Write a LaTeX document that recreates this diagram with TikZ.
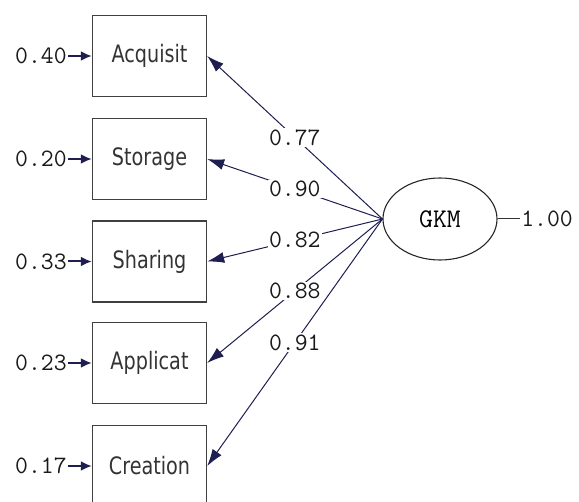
\documentclass[tikz,border=0pt]{standalone}
\usepackage{fontspec}
\newfontfamily\boxfont[FakeStretch=0.8]{DejaVu Sans}
\usetikzlibrary{arrows.meta,shapes.geometric}
\definecolor{pathnavy}{RGB}{30,30,80}

\begin{document}
\begin{tikzpicture}[x=1pt,y=-1pt,
    indicator/.style={draw=black!75,line width=1.4pt,minimum width=114pt,minimum height=81pt,inner sep=0pt,text=black!80,font=\boxfont\fontsize{24}{24}\selectfont},
    latent/.style={ellipse,draw=black!85,line width=1.1pt,minimum width=114pt,minimum height=82pt,inner sep=0pt,font=\ttfamily\fontsize{27}{27}\selectfont},
    numlab/.style={text=black!90,font=\ttfamily\fontsize{25}{25}\selectfont,inner sep=1.5pt},
    loading/.style={pathnavy,line width=1pt,-{Latex[length=17pt,width=11pt]}},
    errarrow/.style={pathnavy,line width=2pt,-{Latex[length=11pt,width=10pt]}}]
    \useasboundingbox (0,0) rectangle (579,502);
    \clip (0,0) rectangle (579,502);
    % observed indicators
    \node[indicator] (acq) at (149.5,56) {Acquisit};
    \node[indicator] (sto) at (149.5,159) {Storage};
    \node[indicator] (sha) at (149.5,261.5) {Sharing};
    \node[indicator] (app) at (149.5,363) {Applicat};
    \node[indicator] (cre) at (149.5,466) {Creation};
    % error variances
    \node[numlab] (eacq) at (41,56) {0.40};
    \node[numlab] (esto) at (41,159) {0.20};
    \node[numlab] (esha) at (41,261.5) {0.33};
    \node[numlab] (eapp) at (41,363) {0.23};
    \node[numlab] (ecre) at (41,466) {0.17};
    \draw[errarrow] (eacq) -- (acq);
    \draw[errarrow] (esto) -- (sto);
    \draw[errarrow] (esha) -- (sha);
    \draw[errarrow] (eapp) -- (app);
    \draw[errarrow] (ecre) -- (cre);
    % latent factor
    \node[latent] (gkm) at (440,219) {GKM};
    \node[numlab] (egkm) at (547,219) {1.00};
    \draw[black!80,line width=1pt] (gkm) -- (egkm);
    % loadings
    \draw[loading] (gkm.west) -- node[numlab,fill=white] {0.77} (acq.east);
    \draw[loading] (gkm.west) -- node[numlab,fill=white] {0.90} (sto.east);
    \draw[loading] (gkm.west) -- node[numlab,fill=white] {0.82} (sha.east);
    \draw[loading] (gkm.west) -- node[numlab,fill=white] {0.88} (app.east);
    \draw[loading] (gkm.west) -- node[numlab,fill=white] {0.91} (cre.east);
\end{tikzpicture}
\end{document}
